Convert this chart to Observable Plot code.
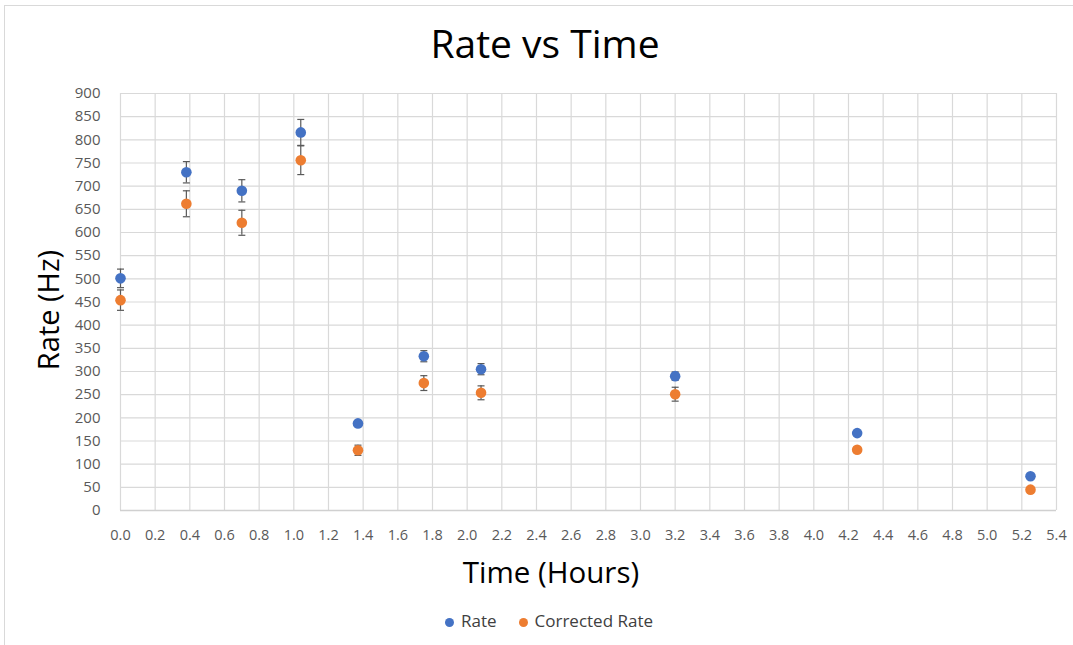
<!DOCTYPE html>
<html>
<head>
<meta charset="utf-8">
<script src="https://cdn.jsdelivr.net/npm/d3@7"></script>
<script src="https://cdn.jsdelivr.net/npm/@observablehq/plot@0.6"></script>
<style>
  html, body { margin: 0; padding: 0; background: #fff; }
  #frame { position: relative; width: 1073px; height: 645px; font-family: "Open Sans", sans-serif; color: #000; overflow: hidden; }
  #border { position: absolute; left: 4px; top: 5px; right: -5px; bottom: -5px; border: 1px solid #d9d9d9; pointer-events: none; }
  #chart { position: absolute; left: 0; top: 0; }
  .title { position: absolute; left: 0; width: 1090px; top: 23px; text-align: center; font-size: 39px; line-height: 1; }
  .xlabel { position: absolute; left: 0; width: 1102px; top: 557px; text-align: center; font-size: 29.5px; line-height: 1; }
  .ylabel { position: absolute; left: 47px; top: 310px; font-size: 29px; line-height: 1; transform: translate(-50%, -50%) rotate(-90deg); white-space: nowrap; }
  .legend { position: absolute; left: 0; width: 1098px; top: 612px; text-align: center; font-size: 17px; line-height: 1; color: #404040; }
  .legend span.item { margin: 0 11px; }
  .legend span.sw { display: inline-block; width: 9px; height: 9px; border-radius: 50%; margin-right: 7px; vertical-align: 0px; }
</style>
</head>
<body>
<div id="frame">
  <div id="chart"></div>
  <div class="title">Rate vs Time</div>
  <div class="ylabel">Rate (Hz)</div>
  <div class="xlabel">Time (Hours)</div>
  <div class="legend" id="legend"></div>
  <div id="border"></div>
</div>
<script>
// Measurements: time since start (hours) with rate and dead-time corrected rate (Hz)
const hours         = [0, 0.38, 0.7, 1.04, 1.37, 1.75, 2.08, 3.2, 4.25, 5.25];
const rate          = [501, 730, 690, 816, 188, 333, 305, 290, 167, 74];
const rateErr       = [20, 23, 24, 28, 5, 12, 12, 9, 4, 3];
const corrected     = [454, 662, 621, 756, 130, 275, 254, 251, 131, 45];
const correctedErr  = [22, 28, 27, 31, 11, 16, 15, 15, 6, 4];

const seriesNames  = ["Rate", "Corrected Rate"];
const seriesColors = ["#4472C4", "#ED7D31"];

const xTicks = [0, 0.2, 0.4, 0.6, 0.8, 1.0, 1.2, 1.4, 1.6, 1.8, 2.0, 2.2, 2.4, 2.6,
                2.8, 3.0, 3.2, 3.4, 3.6, 3.8, 4.0, 4.2, 4.4, 4.6, 4.8, 5.0, 5.2, 5.4];
const yTicks = [0, 50, 100, 150, 200, 250, 300, 350, 400, 450, 500, 550, 600, 650, 700, 750, 800, 850, 900];

// Long-format table built from the arrays above
const rows = [];
hours.forEach((h, i) => {
  rows.push({t: h, v: rate[i], e: rateErr[i], s: seriesNames[0]});
  rows.push({t: h, v: corrected[i], e: correctedErr[i], s: seriesNames[1]});
});

// Horizontal cap glyph for the error bars
const cap = {
  draw(ctx, size) {
    const r = Math.sqrt(size / Math.PI);
    ctx.moveTo(-r, 0);
    ctx.lineTo(r, 0);
  }
};

const errColor = "#595959";

const chart = Plot.plot({
  width: 1073,
  height: 645,
  marginTop: 93,
  marginBottom: 135,
  marginLeft: 120,
  marginRight: 17,
  style: {fontFamily: "'Open Sans', sans-serif", background: "transparent"},
  x: {domain: [0, 5.4]},
  y: {domain: [0, 900]},
  color: {domain: seriesNames, range: seriesColors},
  marks: [
    Plot.gridX(xTicks, {stroke: "#d9d9d9", strokeOpacity: 1, strokeWidth: 1.2}),
    Plot.gridY(yTicks, {stroke: "#d9d9d9", strokeOpacity: 1, strokeWidth: 1.2}),
    Plot.ruleY([0], {stroke: "#d0d0d0", strokeWidth: 1.5}),
    Plot.axisX(xTicks, {tickSize: 0, tickPadding: 19, tickFormat: d => d.toFixed(1), fontSize: 14.5, fill: "#595959", label: null}),
    Plot.axisY(yTicks, {tickSize: 0, tickPadding: 20, fontSize: 15, fill: "#595959", label: null}),
    // error bars
    Plot.ruleX(rows, {x: "t", y1: d => d.v - d.e, y2: d => d.v + d.e, stroke: errColor, strokeWidth: 1.2}),
    Plot.dot(rows, {x: "t", y: d => d.v - d.e, symbol: cap, r: 3.5, stroke: errColor, strokeWidth: 1.2}),
    Plot.dot(rows, {x: "t", y: d => d.v + d.e, symbol: cap, r: 3.5, stroke: errColor, strokeWidth: 1.2}),
    // markers
    Plot.dot(rows, {x: "t", y: "v", fill: "s", r: 5.3, stroke: null})
  ]
});
document.getElementById("chart").appendChild(chart);

// Legend below the plot
const legend = document.getElementById("legend");
seriesNames.forEach((name, i) => {
  const item = document.createElement("span");
  item.className = "item";
  const sw = document.createElement("span");
  sw.className = "sw";
  sw.style.background = seriesColors[i];
  item.appendChild(sw);
  item.appendChild(document.createTextNode(name));
  legend.appendChild(item);
});
</script>
</body>
</html>
